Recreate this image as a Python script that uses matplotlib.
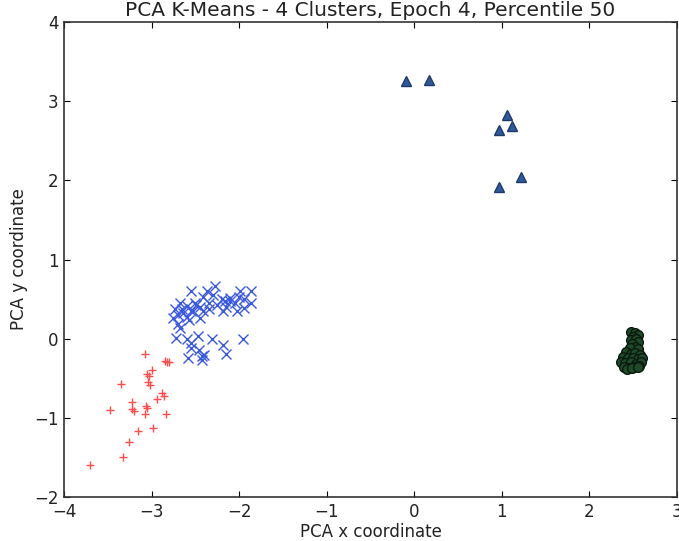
import numpy as np
import matplotlib
matplotlib.use('Agg')
import matplotlib.pyplot as plt

# cluster members in PCA space
red_x = [-3.08, -2.85, -2.82, -2.80, -3.00, -3.05, -3.03, -3.04, -3.02, -3.35,
         -2.88, -2.86, -2.94, -3.22, -3.06, -3.22, -3.20, -3.05, -3.47, -3.07,
         -2.84, -2.98, -3.15, -3.26, -3.33, -3.70]
red_y = [-0.19, -0.28, -0.30, -0.29, -0.39, -0.44, -0.47, -0.55, -0.58, -0.57,
         -0.69, -0.72, -0.76, -0.80, -0.85, -0.89, -0.91, -0.87, -0.90, -0.95,
         -0.95, -1.13, -1.16, -1.30, -1.50, -1.59]

blue_x = [-2.28, -2.37, -2.55, -1.99, -1.87, -2.41, -2.11, -2.00, -2.16, -1.86,
          -2.68, -2.60, -2.49, -2.34, -2.73, -2.53, -2.41, -2.18, -2.03, -1.94,
          -2.64, -2.75, -2.57, -2.45, -2.70, -2.68, -2.72, -2.60, -2.47, -2.31,
          -1.96, -2.18, -2.55, -2.46, -2.43, -2.15, -2.58, -2.43,
          -2.65, -2.55, -2.45, -2.35, -2.25, -2.15, -2.05, -2.70, -2.60, -2.50,
          -2.30, -2.20, -2.10, -1.95, -2.40, -2.55]
blue_y = [0.67, 0.60, 0.60, 0.60, 0.60, 0.53, 0.51, 0.53, 0.47, 0.45,
          0.45, 0.41, 0.43, 0.45, 0.37, 0.35, 0.35, 0.35, 0.35, 0.39,
          0.32, 0.26, 0.24, 0.26, 0.18, 0.14, 0.01, -0.01, 0.03, -0.01,
          0.00, -0.08, -0.12, -0.14, -0.22, -0.19, -0.24, -0.27,
          0.38, 0.35, 0.40, 0.38, 0.42, 0.40, 0.45, 0.30, 0.27, 0.45,
          0.55, 0.50, 0.48, 0.50, -0.20, -0.05]

green_x = [2.48, 2.52, 2.55, 2.50, 2.47, 2.53, 2.56, 2.49, 2.52, 2.46, 2.55,
           2.42, 2.47, 2.52, 2.58, 2.38, 2.44, 2.50, 2.56, 2.60, 2.36, 2.41,
           2.47, 2.53, 2.59, 2.39, 2.45, 2.51, 2.57, 2.43, 2.49, 2.55]
green_y = [0.08, 0.07, 0.05, 0.02, -0.02, -0.01, -0.04, -0.07, -0.10, -0.12, -0.13,
           -0.17, -0.19, -0.18, -0.20, -0.23, -0.25, -0.24, -0.26, -0.24, -0.29, -0.31,
           -0.30, -0.32, -0.30, -0.36, -0.37, -0.36, -0.35, -0.38, -0.37, -0.36]

tri_x = [-0.09, 0.17, 1.06, 1.12, 0.97, 1.22, 0.97]
tri_y = [3.25, 3.27, 2.83, 2.69, 2.63, 2.04, 1.92]

fig = plt.figure(figsize=(6.79, 5.41), dpi=100)
ax = fig.add_axes([0.0943, 0.0813, 0.9027, 0.878])

ax.plot(red_x, red_y, '+', color='#ff4d4d', ms=6, mew=1.0, ls='none')
ax.plot(blue_x, blue_y, 'x', color='#3a58e0', ms=6.5, mew=1.0, ls='none')
ax.plot(green_x, green_y, 'o', color='#1f4a2a', mec='#0a1a0e', ms=7, ls='none')
ax.plot(tri_x, tri_y, '^', color='#2e5a9c', mec='#1e3a6a', ms=7, ls='none')

ax.set_xlim(-4, 3)
ax.set_ylim(-2, 4)
ax.set_xticks(range(-4, 4))
ax.set_yticks(range(-2, 5))
ax.tick_params(direction='in', top=True, right=True, length=4, labelsize=12,
               pad=4, labelcolor='#222222')
for s in ax.spines.values():
    s.set_linewidth(1.2)
    s.set_color('#333333')

ax.set_title('PCA K-Means - 4 Clusters, Epoch 4, Percentile 50', fontsize=14.5, pad=4,
             color='#222222')
ax.set_xlabel('PCA x coordinate', fontsize=12, labelpad=2, color='#222222')
ax.set_ylabel('PCA y coordinate', fontsize=12, labelpad=4, color='#222222')

fig.savefig('out.png', dpi=100)
